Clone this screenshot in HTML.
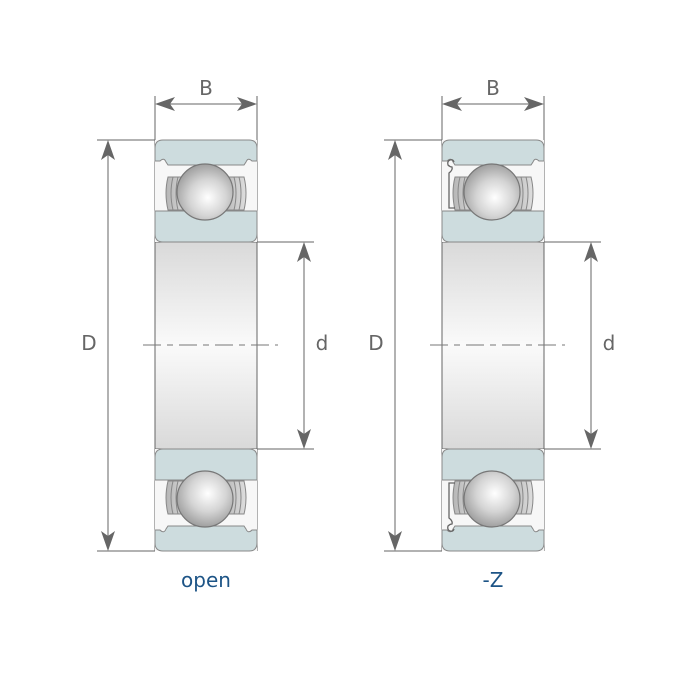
<!DOCTYPE html>
<html><head><meta charset="utf-8"><style>
html,body{margin:0;padding:0;background:#fff;}
svg{display:block;}
text{font-family:"DejaVu Sans","Liberation Sans",sans-serif;}
</style></head><body>
<svg width="700" height="700" viewBox="0 0 700 700" xmlns="http://www.w3.org/2000/svg">
<defs>
<radialGradient id="ball" cx="0.55" cy="0.6" r="0.6">
<stop offset="0" stop-color="#ffffff"/><stop offset="0.55" stop-color="#d4d4d4"/><stop offset="1" stop-color="#a0a0a0"/>
</radialGradient>
<linearGradient id="bore" x1="0" y1="0" x2="0" y2="1">
<stop offset="0" stop-color="#d9d9d9"/><stop offset="0.5" stop-color="#fafafa"/><stop offset="1" stop-color="#d9d9d9"/>
</linearGradient>
<linearGradient id="cage" x1="0" y1="0" x2="1" y2="0">
<stop offset="0" stop-color="#b5b5b5"/><stop offset="1" stop-color="#dedede"/>
</linearGradient>
<g id="sec">
<rect x="0" y="0" width="102" height="102" fill="#f7f7f7"/>
<path d="M0,8 Q0,0 8,0 H94 Q102,0 102,8 V21 H97 Q93,17 91,22 L89,25 H13 L11,22 Q9,17 5,21 H0 Z" fill="#cddcde" stroke="#888" stroke-width="1"/>
<path d="M0,71 H102 V94 Q102,102 94,102 H8 Q0,102 0,94 Z" fill="#cddcde" stroke="#888" stroke-width="1"/>
<path d="M13,37 H34 V70 H13 Q9,53 13,37 Z" fill="url(#cage)" stroke="#888" stroke-width="1"/>
<path d="M18,37 Q14,53 18,70 M23,37 Q19,53 23,70" fill="none" stroke="#888" stroke-width="1"/>
<path d="M68,37 H89 Q93,53 89,70 H68 Z" fill="url(#cage)" stroke="#888" stroke-width="1"/>
<path d="M84,37 Q88,53 84,70 M79,37 Q83,53 79,70" fill="none" stroke="#888" stroke-width="1"/>
<circle cx="50" cy="52" r="28" fill="url(#ball)" stroke="#777" stroke-width="1.2"/>
</g>
<g id="shield">
<path d="M12,22 Q11,19 8,20 Q5,21 6,25 Q8,27 10,27 Q11,30 7,33 V68 H13" fill="none" stroke="#666" stroke-width="1.3"/>
</g>
<path id="ah" d="M0,0 L-20,-7 L-15,0 L-20,7 Z" fill="#666"/>
</defs>

<g stroke="#666" stroke-width="1" fill="none">
<line x1="155" y1="96" x2="155" y2="551"/><line x1="257" y1="96" x2="257" y2="551"/>
<line x1="158" y1="104" x2="254" y2="104"/>
<line x1="97" y1="140" x2="155" y2="140"/><line x1="97" y1="551" x2="155" y2="551"/>
<line x1="108" y1="143" x2="108" y2="548"/>
<line x1="257" y1="242" x2="314" y2="242"/><line x1="257" y1="449" x2="314" y2="449"/>
<line x1="304" y1="245" x2="304" y2="446"/>
<line x1="442" y1="96" x2="442" y2="551"/><line x1="544" y1="96" x2="544" y2="551"/>
<line x1="445" y1="104" x2="541" y2="104"/>
<line x1="384" y1="140" x2="442" y2="140"/><line x1="384" y1="551" x2="442" y2="551"/>
<line x1="395" y1="143" x2="395" y2="548"/>
<line x1="544" y1="242" x2="601" y2="242"/><line x1="544" y1="449" x2="601" y2="449"/>
<line x1="591" y1="245" x2="591" y2="446"/>
</g>

<rect x="155" y="242" width="102" height="207" fill="url(#bore)" stroke="#666"/>
<rect x="442" y="242" width="102" height="207" fill="url(#bore)" stroke="#666"/>

<use href="#sec" transform="translate(155,140)"/>
<use href="#sec" transform="translate(155,551) scale(1,-1)"/>
<use href="#sec" transform="translate(442,140)"/>
<use href="#sec" transform="translate(442,551) scale(1,-1)"/>
<use href="#shield" transform="translate(442,140)"/>
<use href="#shield" transform="translate(442,551) scale(1,-1)"/>

<line x1="143" y1="345" x2="278" y2="345" stroke="#777" stroke-width="1" stroke-dasharray="18,6,6,6"/>
<line x1="430" y1="345" x2="565" y2="345" stroke="#777" stroke-width="1" stroke-dasharray="18,6,6,6"/>

<use href="#ah" transform="translate(155,104) rotate(180)"/>
<use href="#ah" transform="translate(257,104)"/>
<use href="#ah" transform="translate(108,140) rotate(-90)"/>
<use href="#ah" transform="translate(108,551) rotate(90)"/>
<use href="#ah" transform="translate(304,242) rotate(-90)"/>
<use href="#ah" transform="translate(304,449) rotate(90)"/>
<use href="#ah" transform="translate(442,104) rotate(180)"/>
<use href="#ah" transform="translate(544,104)"/>
<use href="#ah" transform="translate(395,140) rotate(-90)"/>
<use href="#ah" transform="translate(395,551) rotate(90)"/>
<use href="#ah" transform="translate(591,242) rotate(-90)"/>
<use href="#ah" transform="translate(591,449) rotate(90)"/>

<g fill="#666" font-size="20">
<text x="206" y="95" text-anchor="middle">B</text>
<text x="493" y="95" text-anchor="middle">B</text>
<text x="89" y="350" text-anchor="middle">D</text>
<text x="376" y="350" text-anchor="middle">D</text>
<text x="322" y="350" text-anchor="middle">d</text>
<text x="609" y="350" text-anchor="middle">d</text>
</g>
<text x="206" y="587" text-anchor="middle" font-size="20" fill="#1d5486">open</text>
<text x="493" y="587" text-anchor="middle" font-size="20" fill="#1d5486">-Z</text>
</svg>
</body></html>
